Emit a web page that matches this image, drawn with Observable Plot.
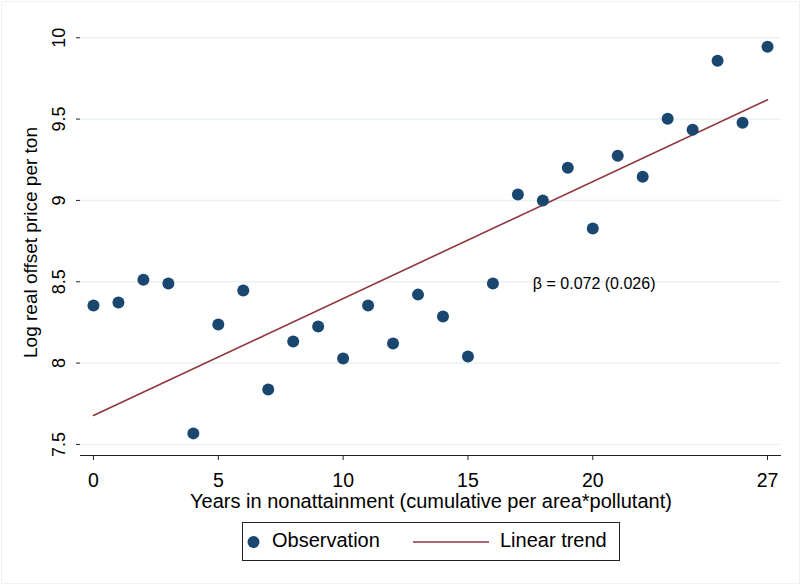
<!DOCTYPE html>
<html><head><meta charset="utf-8">
<script src="https://cdn.jsdelivr.net/npm/d3@7"></script>
<script src="https://cdn.jsdelivr.net/npm/@observablehq/plot@0.6"></script>
<style>
body{margin:0;background:#fff;font-family:Arial,"Liberation Sans",sans-serif}
#wrap{position:relative;width:802px;height:587px;overflow:hidden}
#frame{position:absolute;left:1px;top:1px;width:799px;height:583px;border:1px solid #eef1f2;box-sizing:border-box}
#legend{position:absolute;left:242px;top:522px;width:376px;height:37px;border:1px solid #222;box-sizing:content-box;font-size:20px;color:#000}
#legend span{position:absolute;top:6px;white-space:nowrap}
</style></head><body><div id="wrap"><div id="frame"></div></div>
<script>
const years = [0,1,2,3,4,5,6,7,8,9,10,11,12,13,14,15,16,17,18,19,20,21,22,23,24,25,26,27];
const logPrice = [8.354,8.372,8.513,8.489,7.568,8.237,8.446,7.838,8.133,8.225,8.028,8.354,8.120,8.421,8.286,8.040,8.489,9.036,8.999,9.201,8.827,9.275,9.146,9.502,9.435,9.859,9.478,9.945];
const trendYears = [0,27];
const trendValues = [7.678,9.619];
const xTicks = [0,5,10,15,20,27];
const yTicks = [7.5,8,8.5,9,9.5,10];
const annotationText = ["β = 0.072 (0.026)"];
const annotationX = [17.6];
const annotationY = [8.49];
const xLabel = "Years in nonattainment (cumulative per area*pollutant)";
const yLabel = "Log real offset price per ton";
const legendLabels = ["Observation","Linear trend"];

const navy = "#1a476f", maroon = "#90353b";
const obs = years.map((x,i)=>({x, y: logPrice[i]}));
const trend = trendYears.map((x,i)=>({x, y: trendValues[i]}));
const annot = annotationText.map((t,i)=>({t, x: annotationX[i], y: annotationY[i]}));

const chart = Plot.plot({
  width: 802, height: 515,
  marginLeft: 80, marginRight: 21, marginTop: 21, marginBottom: 60,
  style: {fontFamily: 'Arial,"Liberation Sans",sans-serif', color: "#000", background: "transparent", overflow: "visible"},
  x: {domain: [-0.52, 27.56]},
  y: {domain: [7.432, 10.1]},
  marks: [
    Plot.gridY(yTicks, {stroke: "#e9f1f3", strokeOpacity: 1, strokeWidth: 1.5}),
    Plot.ruleY([7.432], {stroke: "#222", strokeWidth: 1.2}),
    Plot.axisX(xTicks, {tickSize: 5, tickPadding: 13, fontSize: 19.5, stroke: "#222", fill: "#000", label: null}),
    Plot.text([xLabel], {frameAnchor: "bottom", dy: 46.5, fontSize: 20, fill: "#000", lineAnchor: "middle"}),
    Plot.axisY(yTicks, {tickSize: 4, tickPadding: 12, fontSize: 18, stroke: "#222", fill: "#000", tickRotate: -90, textAnchor: "middle", lineAnchor: "bottom", tickFormat: d => String(d), label: null}),
    Plot.text([yLabel], {frameAnchor: "left", dx: -44, dy: 4, rotate: -90, fontSize: 19, textAnchor: "middle", lineAnchor: "bottom", fill: "#000"}),
    Plot.line(trend, {x: "x", y: "y", stroke: maroon, strokeWidth: 1.6}),
    Plot.dot(obs, {x: "x", y: "y", r: 6, fill: navy}),
    Plot.text(annot, {x: "x", y: "y", text: "t", textAnchor: "start", fontSize: 16, fill: "#000"})
  ]
});
const wrap = document.getElementById("wrap");
chart.style.position = "absolute"; chart.style.left = "0"; chart.style.top = "0";
wrap.appendChild(chart);

// legend
const lg = document.createElement("div");
lg.id = "legend";
const sw = Plot.plot({
  width: 376, height: 37, margin: 0,
  x: {domain: [0, 376]}, y: {domain: [0, 37]}, axis: null,
  style: {background: "transparent", overflow: "visible"},
  marks: [
    Plot.dot([{x: 10, y: 18.5}], {x: "x", y: "y", r: 6, fill: navy}),
    Plot.ruleY([18.5], {x1: 170, x2: 246, stroke: maroon, strokeWidth: 1.6})
  ]
});
sw.style.position = "absolute"; sw.style.left = "0"; sw.style.top = "0";
lg.appendChild(sw);
const s1 = document.createElement("span"); s1.textContent = legendLabels[0]; s1.style.left = "29px";
const s2 = document.createElement("span"); s2.textContent = legendLabels[1]; s2.style.left = "257px";
lg.appendChild(s1); lg.appendChild(s2);
wrap.appendChild(lg);
</script></body></html>
